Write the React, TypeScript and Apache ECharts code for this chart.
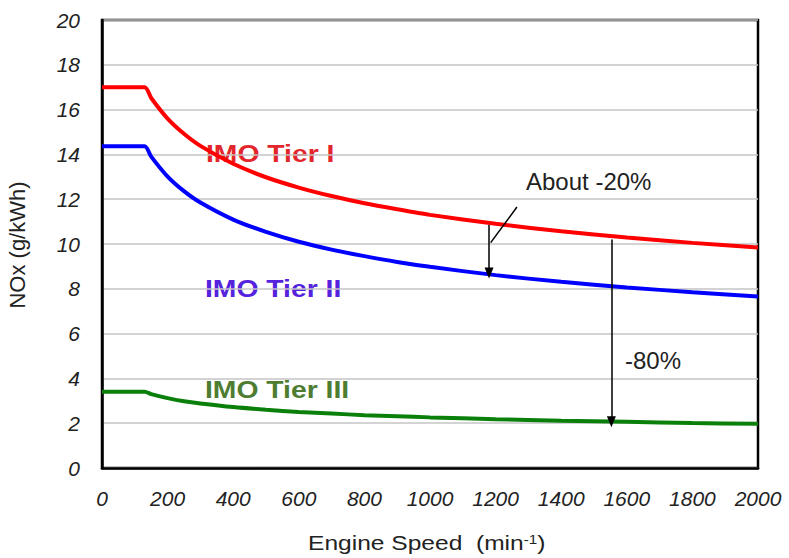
import React, { useEffect, useRef } from "react";
import * as echarts from "echarts";

const speeds = [0, 130, 150, 200, 250, 300, 400, 500, 600, 700, 800, 900, 1000, 1200, 1400, 1600, 1800, 2000];
const tier1 = [17.0, 17.0, 16.52, 15.6, 14.92, 14.38, 13.58, 12.98, 12.52, 12.14, 11.82, 11.55, 11.3, 10.9, 10.57, 10.29, 10.05, 9.84];
const tier2 = [14.36, 14.36, 13.9, 13.01, 12.36, 11.85, 11.09, 10.54, 10.1, 9.75, 9.46, 9.2, 8.98, 8.61, 8.31, 8.06, 7.85, 7.66];
const tier3 = [3.4, 3.4, 3.3, 3.12, 2.98, 2.88, 2.72, 2.6, 2.5, 2.43, 2.36, 2.31, 2.26, 2.18, 2.11, 2.06, 2.01, 1.97];

const seriesNames = ["IMO Tier I", "IMO Tier II", "IMO Tier III"];
const xTicks = { min: 0, max: 2000, interval: 200 };
const yTicks = { min: 0, max: 20, interval: 2 };

// annotation arrows (data coordinates)
const arrow20 = { x: 1180, from: 10.85, to: 8.7 };
const leader20 = { x1: 1265, y1: 11.65, x2: 1185, y2: 10.06 };
const arrow80 = { x: 1553, from: 10.2, to: 2.07 };

const FONT = "'Liberation Sans', Arial, sans-serif";

export default function App() {
  const ref = useRef<HTMLDivElement>(null);
  useEffect(() => {
    if (!ref.current) return;
    const chart = echarts.init(ref.current, undefined, { renderer: "svg" });
    const mk = (arr: number[]) => speeds.map((s, i) => [s, arr[i]]);
    const lineBase = {
      type: "line",
      showSymbol: false,
      smooth: 0.25,
      silent: true,
    };
    chart.setOption({
      animation: false,
      backgroundColor: "#fff",
      grid: {
        left: 102,
        right: 31,
        top: 20,
        bottom: 90,
        show: true,
        borderColor: "#000",
        borderWidth: 2.5,
      },
      xAxis: {
        type: "value",
        ...xTicks,
        axisLine: { show: true, lineStyle: { color: "#000", width: 2.5 } },
        axisTick: { show: false },
        splitLine: { show: false },
        axisLabel: {
          margin: 20,
          fontSize: 21,
          fontStyle: "italic",
          color: "#222",
          fontFamily: FONT,
          formatter: (v: number) => String(v),
        },
      },
      yAxis: {
        type: "value",
        ...yTicks,
        axisLine: { show: true, lineStyle: { color: "#000", width: 2.5 } },
        axisTick: { show: false },
        splitLine: { show: true, lineStyle: { color: "#c4c4c4", width: 1.5 } },
        axisLabel: {
          margin: 22,
          fontSize: 21,
          fontStyle: "italic",
          color: "#222",
          fontFamily: FONT,
        },
      },
      series: [
        {
          ...lineBase,
          name: seriesNames[0],
          data: mk(tier1),
          lineStyle: { color: "#ff0000", width: 4 },
          itemStyle: { color: "#ff0000" },
          markLine: {
            silent: true,
            symbolSize: [9, 11],
            label: { show: false },
            lineStyle: { color: "#000", width: 1.5, type: "solid" },
            data: [
              [
                { coord: [arrow20.x, arrow20.from], symbol: "none" },
                { coord: [arrow20.x, arrow20.to], symbol: "triangle", symbolRotate: 180 },
              ],
              [
                { coord: [leader20.x1, leader20.y1], symbol: "none" },
                { coord: [leader20.x2, leader20.y2], symbol: "none" },
              ],
              [
                { coord: [arrow80.x, arrow80.from], symbol: "none" },
                { coord: [arrow80.x, arrow80.to], symbol: "triangle", symbolRotate: 180 },
              ],
            ],
          },
        },
        {
          ...lineBase,
          name: seriesNames[1],
          data: mk(tier2),
          lineStyle: { color: "#0000ff", width: 4 },
          itemStyle: { color: "#0000ff" },
        },
        {
          ...lineBase,
          name: seriesNames[2],
          data: mk(tier3),
          lineStyle: { color: "#0a800a", width: 4 },
          itemStyle: { color: "#0a800a" },
        },
      ],
      graphic: [
        {
          type: "text",
          x: 206,
          y: 154,
          scaleX: 1.18,
          style: {
            text: seriesNames[0],
            fontSize: 24,
            fontWeight: "bold",
            fontFamily: FONT,
            fill: "#e3262b",
            verticalAlign: "middle",
          },
        },
        {
          type: "text",
          x: 205,
          y: 289,
          scaleX: 1.18,
          style: {
            text: seriesNames[1],
            fontSize: 24,
            fontWeight: "bold",
            fontFamily: FONT,
            fill: "#5522dd",
            verticalAlign: "middle",
          },
        },
        {
          type: "text",
          x: 205,
          y: 390,
          scaleX: 1.18,
          style: {
            text: seriesNames[2],
            fontSize: 24,
            fontWeight: "bold",
            fontFamily: FONT,
            fill: "#4e7d32",
            verticalAlign: "middle",
          },
        },
        {
          type: "text",
          x: 526,
          y: 181,
          style: {
            text: "About -20%",
            fontSize: 24,
            fontFamily: FONT,
            fill: "#222",
            verticalAlign: "middle",
          },
        },
        {
          type: "text",
          x: 625,
          y: 360,
          style: {
            text: "-80%",
            fontSize: 24,
            fontFamily: FONT,
            fill: "#222",
            verticalAlign: "middle",
          },
        },
        {
          type: "text",
          x: 17,
          y: 245,
          rotation: Math.PI / 2,
          style: {
            text: "NOx (g/kWh)",
            fontSize: 22,
            fontFamily: FONT,
            fill: "#222",
            align: "center",
            verticalAlign: "middle",
          },
        },
        {
          type: "text",
          x: 308,
          y: 543,
          scaleX: 1.17,
          style: {
            text: "Engine Speed  (min{sup|-1})",
            fontSize: 21,
            fontFamily: FONT,
            fill: "#222",
            verticalAlign: "middle",
            rich: {
              sup: {
                fontSize: 13,
                fontFamily: FONT,
                fill: "#222",
                verticalAlign: "top",
              },
            },
          },
        },
      ],
    });
    return () => chart.dispose();
  }, []);
  return (
    <div
      ref={ref}
      style={{ position: "absolute", left: 0, top: 0, width: 789, height: 558 }}
    />
  );
}
